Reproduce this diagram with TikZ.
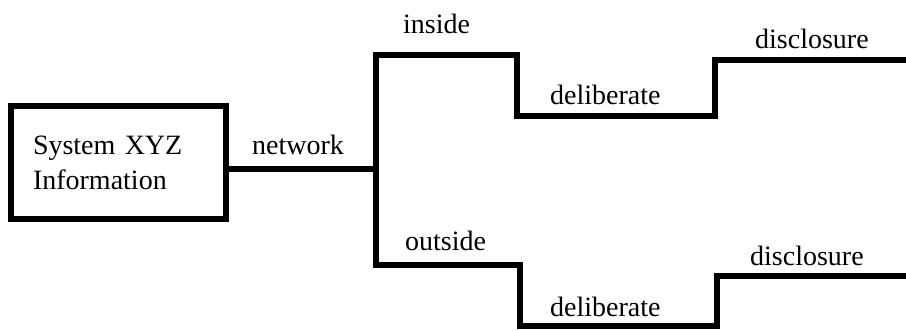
\documentclass[tikz,border=0pt]{standalone}
\usepackage{fontspec}
\setmainfont{Liberation Serif}
\usepackage{tikz}
\usetikzlibrary{positioning,calc}

\begin{document}
\begin{tikzpicture}[
    x=1pt,y=-1pt,
    sysbox/.style = {rectangle,draw=black,line width=6pt,fill=white,
                     minimum width=215pt,minimum height=113pt,
                     text width=171pt,align=left,inner sep=0pt,
                     font=\fontsize{28}{35}\selectfont},
    wire/.style   = {draw=black,line width=6pt},
    tag/.style    = {font=\fontsize{28}{34}\selectfont,inner sep=0pt,anchor=base west},
  ]
  \useasboundingbox (0,0) rectangle (906,331);

  \node[sysbox] (sys) at (118.5,162.5) {System XYZ\\Information};

  % junction on the trunk and corners of both branches
  \coordinate (jtop)  at (376,55.5);
  \coordinate (jmid)  at (376,169);
  \coordinate (jbot)  at (376,265);
  \coordinate (idrop) at (517,55.5);
  \coordinate (iup)   at (714.5,116);
  \coordinate (iend)  at (906,60);
  \coordinate (odrop) at (520,265);
  \coordinate (oup)   at (717,326);
  \coordinate (oend)  at (906,276);

  \draw[wire] (sys.east |- jmid) -- (jmid);
  \draw[wire] (iend) -| (iup) -| (idrop) -- (jtop) -- (jbot)
              -- (odrop) |- (oup) |- (oend);

  \node[tag] (lnet) at (252,155)   {network};
  \node[tag] (lin)  at (403,34)    {inside};
  \node[tag] (ldi)  at (550,104.5) {deliberate};
  \node[tag] (lci)  at (755,49)    {disclosure};
  \node[tag] (lout) at (405,250.5) {outside};
  \node[tag] (ldo)  at (550,317)   {deliberate};
  \node[tag] (lco)  at (750,266)   {disclosure};

\end{tikzpicture}
\end{document}
